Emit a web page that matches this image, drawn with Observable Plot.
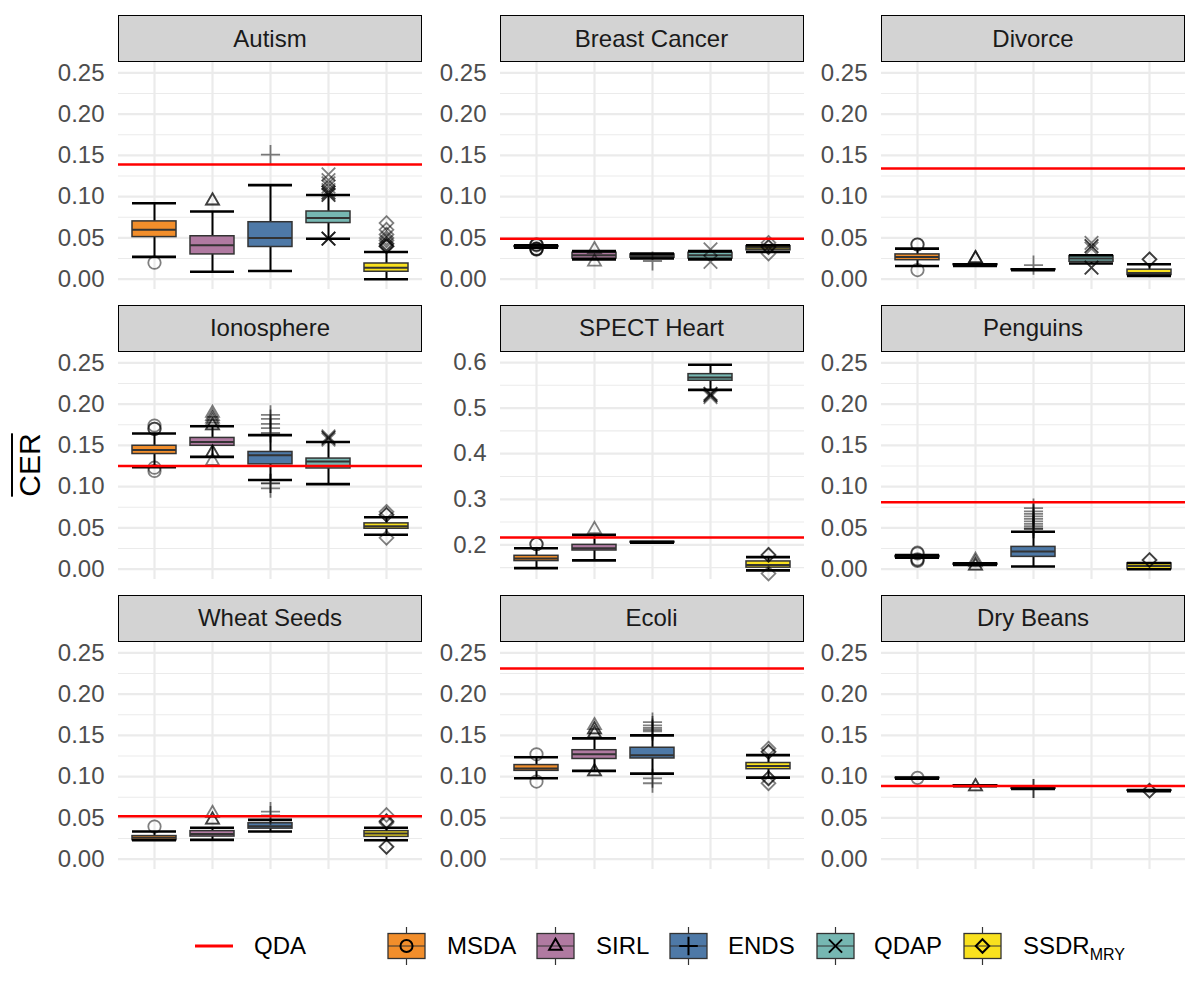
<!DOCTYPE html>
<html>
<head>
<meta charset="utf-8">
<script src="https://cdn.jsdelivr.net/npm/d3@7"></script>
<script src="https://cdn.jsdelivr.net/npm/@observablehq/plot@0.6"></script>
<style>
  body { margin: 0; background: #fff; font-family: "Liberation Sans", Arial, sans-serif; }
  #root { position: relative; width: 1200px; height: 1000px; overflow: hidden; background: #fff; }
  .strip { position: absolute; box-sizing: border-box; background: #d3d3d3; border: 1.5px solid #000;
           font-size: 24px; color: #1a1a1a; display: flex; align-items: center; justify-content: center; }
  .panel { position: absolute; }
  #ytitle { position: absolute; left: 30px; top: 465px; transform: translate(-50%, -50%) rotate(-90deg);
            font-size: 30px; color: #000; text-decoration: overline; text-decoration-thickness: 2px; white-space: nowrap; }
  .legtext { position: absolute; font-size: 24px; color: #000; line-height: 30px; white-space: nowrap; }
</style>
</head>
<body>
<div id="root"></div>
<script>
// ---------- data ----------
const datasets = ["Autism", "Breast Cancer", "Divorce", "Ionosphere", "SPECT Heart", "Penguins", "Wheat Seeds", "Ecoli", "Dry Beans"];
const methods = ["MSDA", "SIRL", "ENDS", "QDAP", "SSDR"];
const colors = ["#F28E2B", "#B07AA1", "#4E79A7", "#76B7B2", "#F9E11E"];
const shapes = ["circle", "triangle2", "plus", "times", "diamond2"];
const qda = [0.139, 0.049, 0.134, 0.125, 0.216, 0.081, 0.052, 0.231, 0.0887];

const whiskerLow = [
  [0.027, 0.009, 0.010, 0.049, 0.000],
  [0.038, 0.024, 0.025, 0.024, 0.033],
  [0.016, 0.016, 0.011, 0.019, 0.004],
  [0.1234, 0.136, 0.108, 0.103, 0.0418],
  [0.149, 0.166, 0.205, 0.540, 0.144],
  [0.014, 0.005, 0.0032, null, 0.000],
  [0.023, 0.0234, 0.0335, null, 0.023],
  [0.098, 0.107, 0.1036, null, 0.0988],
  [0.0975, 0.0885, 0.0850, null, 0.0825]
];
const quart1 = [
  [0.051, 0.030, 0.039, 0.068, 0.009],
  [0.039, 0.025, 0.026, 0.025, 0.035],
  [0.023, 0.017, 0.0112, 0.021, 0.005],
  [0.1395, 0.1495, 0.127, 0.122, 0.049],
  [0.1644, 0.1876, 0.205, 0.560, 0.150],
  [0.0145, 0.0055, 0.0149, null, 0.000],
  [0.023, 0.0274, 0.037, null, 0.027],
  [0.107, 0.1214, 0.122, null, 0.109],
  [0.098, 0.0887, 0.0853, null, 0.0828]
];
const medians = [
  [0.060, 0.041, 0.050, 0.074, 0.014],
  [0.039, 0.029, 0.028, 0.029, 0.038],
  [0.027, 0.017, 0.0116, 0.025, 0.0076],
  [0.1443, 0.154, 0.138, 0.1306, 0.052],
  [0.170, 0.1927, 0.2058, 0.567, 0.156],
  [0.015, 0.006, 0.0213, null, 0.004],
  [0.026, 0.0306, 0.040, null, 0.031],
  [0.110, 0.127, 0.126, null, 0.113],
  [0.098, 0.089, 0.0856, null, 0.083]
];
const quart3 = [
  [0.070, 0.052, 0.069, 0.082, 0.019],
  [0.040, 0.032, 0.030, 0.032, 0.040],
  [0.030, 0.018, 0.012, 0.028, 0.0115],
  [0.1495, 0.159, 0.142, 0.134, 0.0555],
  [0.176, 0.200, 0.2065, 0.5745, 0.1636],
  [0.016, 0.0065, 0.027, null, 0.007],
  [0.028, 0.034, 0.0435, null, 0.034],
  [0.114, 0.132, 0.135, null, 0.1165],
  [0.0985, 0.0893, 0.0859, null, 0.0833]
];
const whiskerHigh = [
  [0.092, 0.082, 0.114, 0.102, 0.033],
  [0.041, 0.034, 0.031, 0.034, 0.041],
  [0.037, 0.018, 0.012, 0.029, 0.018],
  [0.1644, 0.1732, 0.1624, 0.154, 0.063],
  [0.1927, 0.222, 0.2065, 0.595, 0.173],
  [0.017, 0.007, 0.0454, null, 0.0075],
  [0.0335, 0.038, 0.0476, null, 0.038],
  [0.1234, 0.1464, 0.150, null, 0.126],
  [0.099, 0.0895, 0.0862, null, 0.0836]
];
const outliers = [
  [[0.020], [0.095, 0.095], [0.151],
   [0.049, 0.049, 0.049, 0.102, 0.102, 0.105, 0.105, 0.108, 0.112, 0.116, 0.120, 0.127],
   [0.040, 0.040, 0.040, 0.043, 0.043, 0.047, 0.050, 0.054, 0.060, 0.068]],
  [[0.036, 0.036, 0.037, 0.037, 0.041, 0.042, 0.042], [0.036, 0.021], [0.022], [0.036, 0.021], [0.044, 0.039, 0.039, 0.031]],
  [[0.042, 0.042, 0.011], [0.025, 0.025, 0.025], [0.017], [0.044, 0.040, 0.040, 0.037, 0.014, 0.014], [0.024, 0.024]],
  [[0.174, 0.170, 0.170, 0.123, 0.119], [0.189, 0.185, 0.182, 0.179, 0.174, 0.174, 0.141, 0.141, 0.131],
   [0.187, 0.182, 0.176, 0.171, 0.165, 0.104, 0.104, 0.098], [0.161, 0.159, 0.159, 0.157], [0.0695, 0.066, 0.066, 0.038]],
  [[0.2015, 0.2015], [0.234], [], [0.531, 0.531, 0.528, 0.528, 0.524], [0.178, 0.178, 0.137]],
  [[0.020, 0.019, 0.012, 0.011, 0.010], [0.011, 0.008, 0.004, 0.004],
   [0.049, 0.049, 0.052, 0.055, 0.058, 0.061, 0.064, 0.067, 0.070, 0.074], [], [0.011, 0.011]],
  [[0.0395], [0.0556, 0.0476, 0.0476], [0.0577, 0.053], [], [0.0536, 0.046, 0.046, 0.044, 0.015, 0.015]],
  [[0.127, 0.094], [0.162, 0.157, 0.157, 0.152, 0.152, 0.106, 0.106], [0.166, 0.162, 0.159, 0.157, 0.155, 0.098, 0.092], [],
   [0.134, 0.130, 0.130, 0.098, 0.098, 0.092]],
  [[0.0985], [0.088, 0.088], [0.0856, 0.0856], [], [0.083, 0.083]]
];

const stdDomain = [-0.0125, 0.2625];
const stdTicks = [0, 0.05, 0.10, 0.15, 0.20, 0.25];
const stdMinor = [0.025, 0.075, 0.125, 0.175, 0.225];
const spectDomain = [0.124, 0.622];
const spectTicks = [0.2, 0.3, 0.4, 0.5, 0.6];
const spectMinor = [0.15, 0.25, 0.35, 0.45, 0.55];

// ---------- layout ----------
const root = document.getElementById("root");
const colLeft = [118, 499.5, 881];
const rowTop = [62, 351.5, 641.5];
const panelW = 304, panelH = 227, mLeft = 70, stripH = 47;

function panel(k) {
  const spect = datasets[k] === "SPECT Heart";
  const major = spect ? spectTicks : stdTicks;
  const minor = spect ? spectMinor : stdMinor;
  const stats = methods.map((m, j) => ({
    method: m, lo: whiskerLow[k][j], q1: quart1[k][j], med: medians[k][j], q3: quart3[k][j], hi: whiskerHigh[k][j]
  })).filter(d => d.med != null);
  const outs = methods.flatMap((m, j) => outliers[k][j].map(v => ({method: m, v})));
  return Plot.plot({
    width: mLeft + panelW, height: panelH,
    marginLeft: mLeft, marginRight: 0, marginTop: 0, marginBottom: 0,
    style: {fontFamily: "'Liberation Sans', Arial, sans-serif", fontSize: "24px", color: "#4d4d4d", overflow: "visible", background: "transparent"},
    x: {type: "band", domain: methods, paddingInner: 0.25, paddingOuter: 0.225, align: 0.5, axis: null},
    y: {domain: spect ? spectDomain : stdDomain, ticks: major, tickSize: 0, tickPadding: 14,
        tickFormat: spect ? d3.format(".1f") : d3.format(".2f"), label: null},
    color: {domain: methods, range: colors},
    symbol: {domain: methods, range: shapes},
    marks: [
      Plot.ruleY(minor, {stroke: "#ebebeb", strokeWidth: 1.1}),
      Plot.ruleY(major, {stroke: "#ebebeb", strokeWidth: 2.2}),
      Plot.ruleX(methods, {x: d => d, stroke: "#ebebeb", strokeWidth: 2.2}),
      Plot.ruleX(stats, {x: "method", y1: "lo", y2: "hi", stroke: "#000", strokeWidth: 2}),
      Plot.barY(stats, {x: "method", y1: "q1", y2: "q3", fill: "method", stroke: "#333", strokeWidth: 1.5}),
      Plot.tickY(stats, {x: "method", y: "med", stroke: "#333", strokeWidth: 2}),
      Plot.tickY(stats, {x: "method", y: "lo", stroke: "#000", strokeWidth: 2.6}),
      Plot.tickY(stats, {x: "method", y: "hi", stroke: "#000", strokeWidth: 2.6}),
      Plot.dot(outs, {x: "method", y: "v", symbol: "method", r: 6.2, stroke: "#000", strokeOpacity: 0.5, strokeWidth: 1.8, fill: "none"}),
      Plot.ruleY([qda[k]], {stroke: "#ff0000", strokeWidth: 2.6})
    ]
  });
}

datasets.forEach((name, k) => {
  const r = Math.floor(k / 3), c = k % 3;
  const strip = document.createElement("div");
  strip.className = "strip";
  strip.style.left = colLeft[c] + "px";
  strip.style.top = (rowTop[r] - stripH) + "px";
  strip.style.width = panelW + "px";
  strip.style.height = stripH + "px";
  strip.textContent = name;
  root.appendChild(strip);
  const wrap = document.createElement("div");
  wrap.className = "panel";
  wrap.style.left = (colLeft[c] - mLeft) + "px";
  wrap.style.top = rowTop[r] + "px";
  wrap.appendChild(panel(k));
  root.appendChild(wrap);
});

// y title
const yt = document.createElement("div");
yt.id = "ytitle";
yt.textContent = "CER";
root.appendChild(yt);

// ---------- legend ----------
const legendY = 946;
const leg = d3.select(root).append("svg")
  .attr("width", 1200).attr("height", 80)
  .style("position", "absolute").style("left", "0px").style("top", (legendY - 40) + "px");
const cy = 40;
leg.append("line").attr("x1", 195).attr("x2", 233).attr("y1", cy).attr("y2", cy)
  .attr("stroke", "#ff0000").attr("stroke-width", 3);
function legText(x, html) {
  const t = document.createElement("div");
  t.className = "legtext";
  t.style.left = x + "px";
  t.style.top = (legendY - 15) + "px";
  t.innerHTML = html;
  root.appendChild(t);
}
legText(254, "QDA");
const keyX = [388, 537, 670, 817, 964];
const textX = [447, 596, 728, 874, 1023];
const labels = ["MSDA", "SIRL", "ENDS", "QDAP", "SSDR<sub style='font-size:16px;vertical-align:-6px;line-height:0'>MRY</sub>"];
const d3shapes = [d3.symbolCircle, d3.symbolTriangle2, d3.symbolPlus, d3.symbolTimes, d3.symbolDiamond2];
methods.forEach((m, j) => {
  const g = leg.append("g").attr("transform", `translate(${keyX[j]},0)`);
  const w = 37, h = 25;
  g.append("line").attr("x1", w / 2).attr("x2", w / 2).attr("y1", cy - 19).attr("y2", cy + 19).attr("stroke", "#333").attr("stroke-width", 1.2);
  g.append("rect").attr("x", 0).attr("y", cy - h / 2).attr("width", w).attr("height", h)
    .attr("fill", colors[j]).attr("stroke", "#333").attr("stroke-width", 1.3);
  g.append("line").attr("x1", 0).attr("x2", w).attr("y1", cy).attr("y2", cy).attr("stroke", "#333").attr("stroke-width", 1.2);
  g.append("path").attr("d", d3.symbol(d3shapes[j], 115)())
    .attr("transform", `translate(${w / 2},${cy})`)
    .attr("fill", "none").attr("stroke", "#000").attr("stroke-width", 2);
  legText(textX[j], labels[j]);
});
</script>
</body>
</html>
